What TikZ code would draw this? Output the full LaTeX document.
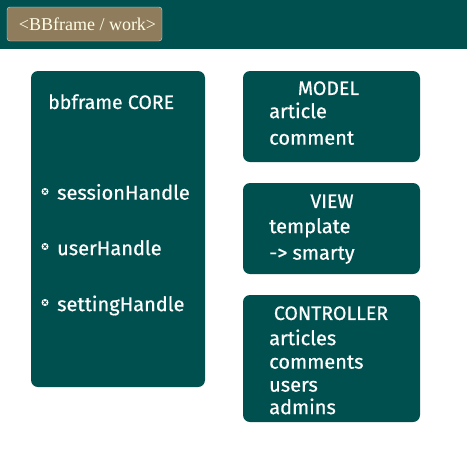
\documentclass[tikz,border=0pt]{standalone}
\usepackage{fontspec}
\setmainfont{Fira Sans}
\newfontfamily\boxfont{Fira Sans}[FakeBold=0.6]
\newfontfamily\headfont{Liberation Serif}

\tikzset{
  panel/.style={fill=bbTeal, rounded corners=7pt, inner sep=0pt},
  title/.style={text=white, font=\boxfont\fontsize{19.5}{21}\selectfont, inner sep=0pt, text height=1.31ex, text depth=0pt, yshift=-4pt},
  entry/.style={text=white, font=\boxfont\fontsize{20}{22}\selectfont, anchor=west, inner sep=0pt, text height=1ex, text depth=0pt, yshift=-4pt},
  bullet/.style={circle, fill=white, minimum size=7pt, inner sep=0pt}
}

\begin{document}
\begin{tikzpicture}[x=1pt, y=-1pt]
        % --- COULEURS ---
        \definecolor{bbTeal}{RGB}{0, 80, 80}
        \definecolor{bbBrown}{RGB}{143, 124, 92}

        \useasboundingbox (0,0) rectangle (467,451);

        % Bandeau du haut
        \fill[bbTeal] (0,0) rectangle (467,49);
        \node[fill=bbBrown, draw=gray!30, rounded corners=3pt, minimum width=155pt, minimum height=34pt] (header) at (84.5,24) {};
        \node[text=white!90!yellow, font=\headfont\fontsize{18}{20}\selectfont, inner sep=0pt] (headerText) at (87.5,24.5) {<BBframe / work>};

        % --- CORE ---
        \node[panel, minimum width=174pt, minimum height=316pt] (core) at (118,229) {};
        \node[title, anchor=west] (coreTitle) at (48,101.5) {bbframe CORE};
        \foreach \name/\y/\ty in {sessionHandle/191.5/193, userHandle/246.5/248.5, settingHandle/302.5/304.5} {
            \node[bullet] (dot\name) at (45,\y) {};
            \draw[bbTeal, line width=0.9pt] ([shift={(-1.7pt,-1.7pt)}]dot\name.center) -- ([shift={(1.7pt,1.7pt)}]dot\name.center)
                                           ([shift={(-1.7pt,1.7pt)}]dot\name.center) -- ([shift={(1.7pt,-1.7pt)}]dot\name.center);
            \node[entry] (\name) at (57,\ty) {\name};
        }

        % --- MODEL ---
        \node[panel, minimum width=177pt, minimum height=91pt] (model) at (331.5,116.5) {};
        \node[title] (modelTitle) at (328.5,87.5) {MODEL};
        \node[entry] (article) at (269,111.5) {article};
        \node[entry] (comment) at (269,138) {comment};

        % --- VIEW ---
        \node[panel, minimum width=177pt, minimum height=91pt] (view) at (331.5,228.5) {};
        \node[title] (viewTitle) at (332,200.5) {VIEW};
        \node[entry] (template) at (269,226.5) {template};
        \node[entry] (smarty) at (269,253) {-> smarty};

        % --- CONTROLLER ---
        \node[panel, minimum width=177pt, minimum height=127pt] (controller) at (331.5,358.5) {};
        \node[title] (controllerTitle) at (331,312.5) {CONTROLLER};
        \node[entry] (articles) at (269,338.5) {articles};
        \node[entry] (comments) at (269,362) {comments};
        \node[entry] (users) at (269,385) {users};
        \node[entry] (admins) at (269,407.5) {admins};
    \end{tikzpicture}
\end{document}
